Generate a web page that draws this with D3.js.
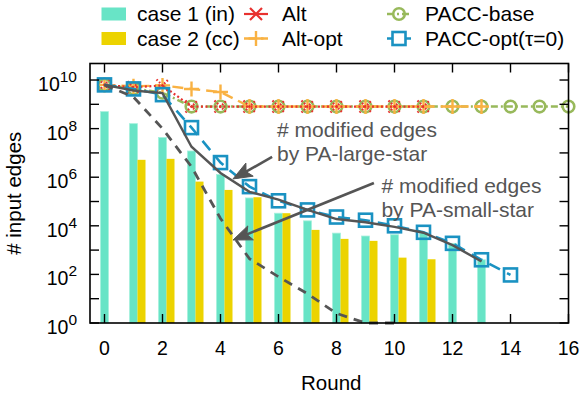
<!DOCTYPE html>
<html>
<head>
<meta charset="utf-8">
<script src="https://cdn.jsdelivr.net/npm/d3@7"></script>
<style>
  body { margin: 0; background: #fff; }
</style>
</head>
<body>
<svg id="chart" width="587" height="399" font-family="Liberation Sans, Arial, sans-serif"></svg>
<script>
const rounds = d3.range(0, 17)
const xTicks = [0, 2, 4, 6, 8, 10, 12, 14, 16]
const yTickExps = [0, 2, 4, 6, 8, 10]

// bars, indexed by round (null = no bar)
const case1In = [5e8, 1.6e8, 4.3e7, 1.2e7, 1.3e6, 1.4e5, 3.3e4, 1.6e4, 5e3, 3.8e3, 4.3e3, 5e3, 1.9e3, 400]
const case2Cc = [null, 5.2e6, 5.7e6, 6.6e5, 3e5, 1.5e5, 3.3e4, 6.8e3, 2.9e3, 2.4e3, 490, 420]

const alt = [6.3e9, 5e9, 6e9, 8.1e8, 8.1e8, 8.1e8, 8.1e8, 8.1e8, 8.1e8, 8.1e8, 8.1e8, 8.1e8]
const altOpt = [6.3e9, 5.5e9, 6e9, 4.3e9, 3.2e9, 8.1e8, 8.1e8, 8.1e8, 8.1e8, 8.1e8, 8.1e8, 8.1e8, 8.1e8, 8.1e8]
const paccBase = [6.3e9, 4.5e9, 3e9, 8.1e8, 8.1e8, 8.1e8, 8.1e8, 8.1e8, 8.1e8, 8.1e8, 8.1e8, 8.1e8, 8.1e8, 8.1e8, 8.1e8, 8.1e8, 8.1e8]
const paccOpt = [6.3e9, 4.3e9, 2.5e9, 1.1e8, 4e6, 4.1e5, 1.07e5, 4.5e4, 2.3e4, 1.7e4, 1e4, 5.4e3, 1.9e3, 400, 95]

// modified edges (gray curves)
const largeStar = [6.3e9, 3.7e9, 2.9e9, 1.8e7, 1.5e6, 2.5e5, 1.2e5, 4.5e4, 1.9e4, 1.4e4, 9e3, 5.2e3, 1.6e3, 340]
const smallStar = [6.3e9, 2e9, 1e8, 2.7e6, 2e4, 440, 80, 16, 2.5, 1, 1]

// annotations: [round, value]
const noteLarge = { text: ['# modified edges', 'by PA-large-star'], at: [5.95, 4.5e7], from: [5.78, 6.8e6], to: [4.43, 8.5e5] }
const noteSmall = { text: ['# modified edges', 'by PA-small-star'], at: [9.55, 2.3e5], from: [9.29, 5.8e5], to: [4.43, 2.6e3] }

const legendItems = [
  { label: 'case 1 (in)', kind: 'bar', color: '#68e4c6', col: 0, row: 0 },
  { label: 'case 2 (cc)', kind: 'bar', color: '#ecd300', col: 0, row: 1 },
  { label: 'Alt', kind: 'alt', color: '#e8312f', col: 1, row: 0 },
  { label: 'Alt-opt', kind: 'altOpt', color: '#f9b243', col: 1, row: 1 },
  { label: 'PACC-base', kind: 'base', color: '#98b95b', col: 2, row: 0 },
  { label: 'PACC-opt(\u03c4=0)', kind: 'opt', color: '#1a92c2', col: 2, row: 1 }
]

const svg = d3.select('#chart')
const margin = { left: 90, right: 568.5, top: 63.5, bottom: 323 }

const x = d3.scaleLinear().domain([-0.5, 16]).range([margin.left, margin.right])
const y = d3.scaleLog().domain([1, Math.pow(10, 10.68)]).range([margin.bottom, margin.top])

const gray = '#555'

// bars
const bw = 8
svg.append('g').selectAll('rect')
  .data(case1In.map((v, i) => [i, v]).filter(d => d[1] != null))
  .enter().append('rect')
  .attr('x', d => x(d[0]) - bw / 2)
  .attr('y', d => y(d[1]))
  .attr('width', bw)
  .attr('height', d => y(1) - y(d[1]))
  .attr('fill', '#68e4c6')
  .attr('stroke', '#a6f0dd')
  .attr('stroke-width', 0.8)

svg.append('g').selectAll('rect')
  .data(case2Cc.map((v, i) => [i, v]).filter(d => d[1] != null))
  .enter().append('rect')
  .attr('x', d => x(d[0]) + bw / 2)
  .attr('y', d => y(d[1]))
  .attr('width', bw)
  .attr('height', d => y(1) - y(d[1]))
  .attr('fill', '#ecd300')

// symbols
const symbols = {
  alt: (g, c, solid) => g.append('path').attr('d', 'M-6,-6L6,6M-6,6L6,-6')
    .attr('stroke', c).attr('stroke-width', 2.2).attr('stroke-dasharray', solid ? null : '1.6,2').attr('fill', 'none'),
  altOpt: (g, c) => g.append('path').attr('d', 'M-7.5,0H7.5M0,-7.5V7.5')
    .attr('stroke', c).attr('stroke-width', 2.4).attr('fill', 'none'),
  base: (g, c) => g.append('circle').attr('r', 5.8)
    .attr('stroke', c).attr('stroke-width', 2.6).attr('fill', 'none'),
  opt: (g, c) => g.append('rect').attr('x', -6.5).attr('y', -6.5).attr('width', 13).attr('height', 13)
    .attr('stroke', c).attr('stroke-width', 2.6).attr('fill', 'none')
}

const series = [
  { data: paccBase, kind: 'base', color: '#98b95b', dash: '7,3,2,3', width: 2.4 },
  { data: altOpt, kind: 'altOpt', color: '#f9b243', dash: '11,6', width: 2.4 },
  { data: alt, kind: 'alt', color: '#e8312f', dash: '2,2.5', width: 2.2 },
  { data: paccOpt, kind: 'opt', color: '#1a92c2', dash: '12,8', width: 2.6 }
]

const line = d3.line().x(d => x(d[0])).y(d => y(d[1]))

series.forEach(s => {
  const pts = s.data.map((v, i) => [rounds[i], v])
  svg.append('path').datum(pts)
    .attr('d', line)
    .attr('fill', 'none')
    .attr('stroke', s.color)
    .attr('stroke-width', s.width)
    .attr('stroke-dasharray', s.dash)
  pts.forEach(p => {
    const g = svg.append('g').attr('transform', `translate(${x(p[0])},${y(p[1])})`)
    symbols[s.kind](g, s.color)
  })
})

// gray curves
svg.append('path').datum(largeStar.map((v, i) => [rounds[i], v]))
  .attr('d', line).attr('fill', 'none').attr('stroke', gray).attr('stroke-width', 2.4)
svg.append('path').datum(smallStar.map((v, i) => [rounds[i], v]))
  .attr('d', line).attr('fill', 'none').attr('stroke', gray).attr('stroke-width', 2.8)
  .attr('stroke-dasharray', '9,7')

// annotations + arrows
const drawNote = (n) => {
  const [x0, y0] = [x(n.from[0]), y(n.from[1])]
  const [x1, y1] = [x(n.to[0]), y(n.to[1])]
  const ang = Math.atan2(y1 - y0, x1 - x0)
  const len = 19, hw = 7.5, notch = 15
  const ux = Math.cos(ang), uy = Math.sin(ang)
  const bx = x1 - ux * len, by = y1 - uy * len
  const nx = x1 - ux * notch, ny = y1 - uy * notch
  svg.append('line')
    .attr('x1', x0).attr('y1', y0).attr('x2', nx).attr('y2', ny)
    .attr('stroke', gray).attr('stroke-width', 2.6)
  svg.append('path')
    .attr('d', `M${x1},${y1}L${bx - uy * hw},${by + ux * hw}L${nx},${ny}L${bx + uy * hw},${by - ux * hw}Z`)
    .attr('fill', gray).attr('stroke', gray).attr('stroke-width', 1)
  const t = svg.append('text')
    .attr('x', x(n.at[0])).attr('y', y(n.at[1]))
    .attr('fill', gray).attr('font-size', 21)
  n.text.forEach((s, i) => {
    t.append('tspan').attr('x', x(n.at[0])).attr('dy', i === 0 ? 0 : 24).text(s)
  })
}
drawNote(noteLarge)
drawNote(noteSmall)

// frame
svg.append('rect')
  .attr('x', margin.left).attr('y', margin.top)
  .attr('width', margin.right - margin.left).attr('height', margin.bottom - margin.top)
  .attr('fill', 'none').attr('stroke', '#000').attr('stroke-width', 1.6)

// x ticks (mirrored)
const tk = 9
xTicks.forEach(r => {
  svg.append('line').attr('x1', x(r)).attr('x2', x(r))
    .attr('y1', margin.bottom).attr('y2', margin.bottom - tk).attr('stroke', '#000').attr('stroke-width', 1.4)
  svg.append('line').attr('x1', x(r)).attr('x2', x(r))
    .attr('y1', margin.top).attr('y2', margin.top + tk).attr('stroke', '#000').attr('stroke-width', 1.4)
  svg.append('text').attr('x', x(r)).attr('y', 355)
    .attr('text-anchor', 'middle').attr('font-size', 19.5).text(r)
})

// y ticks, every decade
d3.range(0, 11).forEach(e => {
  const yy = y(Math.pow(10, e))
  svg.append('line').attr('x1', margin.left).attr('x2', margin.left + tk)
    .attr('y1', yy).attr('y2', yy).attr('stroke', '#000').attr('stroke-width', 1.4)
  svg.append('line').attr('x1', margin.right).attr('x2', margin.right - tk)
    .attr('y1', yy).attr('y2', yy).attr('stroke', '#000').attr('stroke-width', 1.4)
})
yTickExps.forEach(e => {
  const yy = y(Math.pow(10, e))
  const t = svg.append('text').attr('x', 77).attr('y', yy + 11)
    .attr('text-anchor', 'end').attr('font-size', 19.5)
  t.append('tspan').text('10')
  t.append('tspan').attr('dy', -9).attr('font-size', 15.5).text(e)
})

// axis titles
svg.append('text').attr('x', (margin.left + margin.right) / 2 + 2).attr('y', 390)
  .attr('text-anchor', 'middle').attr('font-size', 20.5).text('Round')
svg.append('text')
  .attr('transform', `translate(21,${(margin.top + margin.bottom) / 2}) rotate(-90)`)
  .attr('text-anchor', 'middle').attr('font-size', 20.5).text('# input edges')

// legend
const cols = [101.5, 244, 387]
const rows = [14, 38.5]
legendItems.forEach(it => {
  const lx = cols[it.col], ly = rows[it.row]
  if (it.kind === 'bar') {
    svg.append('rect').attr('x', lx).attr('y', ly - 6.5).attr('width', 24.5).attr('height', 13).attr('fill', it.color)
    svg.append('text').attr('x', lx + 35.5).attr('y', ly + 7).attr('font-size', 21).text(it.label)
  } else {
    const s = series.find(d => d.kind === it.kind)
    svg.append('line').attr('x1', lx).attr('x2', lx + 24).attr('y1', ly).attr('y2', ly)
      .attr('stroke', s.color).attr('stroke-width', s.width)
      .attr('stroke-dasharray', s.kind === 'opt' ? '6,12' : (s.kind === 'alt' ? null : s.dash))
    const g = svg.append('g').attr('transform', `translate(${lx + 12},${ly})`)
    symbols[it.kind](g, it.color, true)
    svg.append('text').attr('x', lx + 38).attr('y', ly + 7).attr('font-size', 21).text(it.label)
  }
})
</script>
</body>
</html>
